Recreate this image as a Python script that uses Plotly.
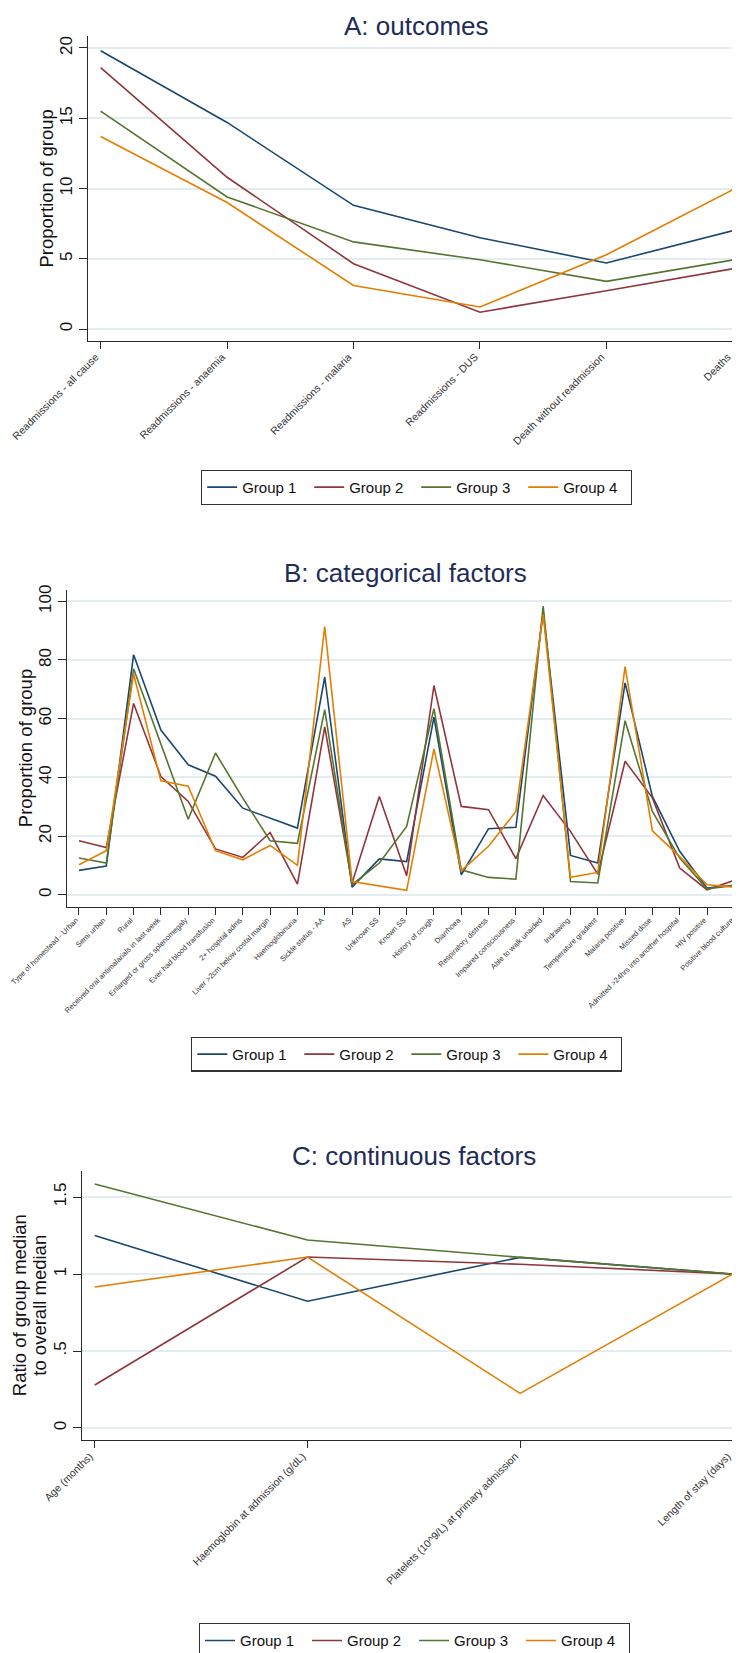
import plotly.graph_objects as go

# ---------------- data ----------------
groups = ["Group 1", "Group 2", "Group 3", "Group 4"]
colors = ["#1a476f", "#90353b", "#55752f", "#e37e00"]

a_cats = ["Readmissions - all cause", "Readmissions - anaemia", "Readmissions - malaria",
          "Readmissions - DUS", "Death without readmission", "Deaths"]
a_g1 = [19.8, 14.7, 8.8, 6.5, 4.7, 7.0]
a_g2 = [18.6, 10.8, 4.65, 1.2, 2.73, 4.29]
a_g3 = [15.5, 9.4, 6.2, 4.93, 3.39, 4.91]
a_g4 = [13.7, 9.0, 3.1, 1.57, 5.29, 9.92]
a_yticks = [0, 5, 10, 15, 20]

b_cats = ["Type of homestead - Urban", "Semi urban", "Rural",
          "Received oral antimalarials in last week", "Enlarged or gross splenomegaly",
          "Ever had blood transfusion", "2+ hospital adms", "Liver >2cm below costal margin",
          "Haemoglobinuria", "Sickle status - AA", "AS", "Unknown SS", "Known SS",
          "History of cough", "Diarrhoea", "Respiratory distress", "Impaired consciousness",
          "Able to walk unaided", "Indrawing", "Temperature gradient", "Malaria positive",
          "Missed dose", "Admitted >24hrs into another hospital", "HIV positive",
          "Positive blood culture"]
b_g1 = [8.3, 9.8, 81.8, 56.1, 44.3, 40.4, 29.5, 26.0, 22.7, 74.2, 2.6, 12.2, 11.3, 60.5,
        6.8, 22.5, 23.0, 96.6, 13.4, 10.8, 72.2, 33.5, 14.8, 2.3, 3.2]
b_g2 = [18.4, 16.1, 65.2, 40.3, 31.8, 15.6, 12.7, 21.2, 3.6, 57.2, 4.0, 33.5, 6.5, 71.3,
        30.1, 29.0, 12.3, 33.8, 21.6, 7.0, 45.5, 33.0, 9.1, 1.7, 4.9]
b_g3 = [12.5, 10.8, 77.0, 51.0, 25.7, 48.3, 32.9, 18.4, 17.5, 63.1, 3.4, 10.8, 23.3, 63.4,
        8.5, 5.9, 5.3, 98.4, 4.5, 4.0, 59.3, 28.4, 12.5, 2.0, 3.2]
b_g4 = [10.2, 15.0, 75.2, 38.8, 37.0, 15.0, 11.9, 16.8, 10.0, 91.4, 4.5, 3.0, 1.5, 49.7,
        8.2, 16.5, 28.4, 95.5, 5.9, 7.6, 77.7, 21.8, 13.0, 3.4, 2.6]
b_yticks = [0, 20, 40, 60, 80, 100]

c_cats = ["Age (months)", "Haemoglobin at admission (g/dL)",
          "Platelets (10^9/L) at primary admission", "Length of stay (days)"]
c_g1 = [1.25, 0.823, 1.108, 1.0]
c_g2 = [0.279, 1.11, 1.063, 1.0]
c_g3 = [1.584, 1.221, 1.108, 1.0]
c_g4 = [0.916, 1.11, 0.225, 1.0]
c_yticks = [0, 0.5, 1, 1.5]
c_yticktext = ["0", ".5", "1", "1.5"]

titles = ["A: outcomes", "B: categorical factors", "C: continuous factors"]
ytitle_lines = [["Proportion of group"], ["Proportion of group"],
                ["Ratio of group median", "to overall median"]]

# ---------------- layout helpers ----------------
W, H = 740, 1653
FONT = "Liberation Sans, Arial, sans-serif"
TITLE_COLOR = "#1e2d58"
GRID = "#e3ecef"
AXIS = "#2a2a2a"


def fx(x):
    return x / W


def fy(y):
    return 1 - y / H


fig = go.Figure()

panels = [
    dict(cats=a_cats, series=[a_g1, a_g2, a_g3, a_g4], xa="x", ya="y", leg="legend"),
    dict(cats=b_cats, series=[b_g1, b_g2, b_g3, b_g4], xa="x2", ya="y2", leg="legend2"),
    dict(cats=c_cats, series=[c_g1, c_g2, c_g3, c_g4], xa="x3", ya="y3", leg="legend3"),
]

for p in panels:
    for name, col, vals in zip(groups, colors, p["series"]):
        fig.add_trace(go.Scatter(
            x=p["cats"], y=vals, mode="lines", name=name,
            line=dict(color=col, width=1.6),
            xaxis=p["xa"], yaxis=p["ya"], legend=p["leg"],
            hoverinfo="x+y+name",
        ))

# pixel geometry of each plot area: (left, right, top, bottom)
geo = [(80, 737.5, 28.3, 332.7), (58.7, 737.5, 581.7, 898.7), (74, 737.5, 1163.3, 1432)]
xranges = [[-0.1, 5.1], [-0.45, 24.41], [-0.06, 3.06]]
yranges = [[-0.83, 20.83], [-4.08, 103.95], [-0.078, 1.667]]
xfont = [10.5, 7.5, 10.5]
xshift = [-5, -3, -5]
ytv = [a_yticks, b_yticks, c_yticks]
ytt = [[str(v) for v in a_yticks], [str(v) for v in b_yticks], c_yticktext]
cats_all = [a_cats, b_cats, c_cats]

layout = dict(
    template="none",
    width=W, height=H, margin=dict(l=0, r=0, t=0, b=0, pad=0),
    paper_bgcolor="white", plot_bgcolor="white",
    font=dict(family=FONT, color="#111111"),
    showlegend=True,
)

for i, (l, r, t, b) in enumerate(geo):
    sx = "" if i == 0 else str(i + 1)
    layout["xaxis" + sx] = dict(
        domain=[fx(l), fx(r)], anchor="y" + sx, range=xranges[i], automargin=False,
        type="category", tickmode="array", tickvals=cats_all[i], ticktext=cats_all[i],
        tickangle=-45, tickfont=dict(size=xfont[i], color="#333333"),
        ticklabelshift=xshift[i], ticklabelstandoff=-2,
        ticks="outside", ticklen=7, tickwidth=1.2, tickcolor=AXIS,
        showline=True, linecolor=AXIS, linewidth=1.3, showgrid=False, zeroline=False,
        fixedrange=True,
    )
    layout["yaxis" + sx] = dict(
        domain=[fy(b), fy(t)], anchor="x" + sx, range=yranges[i], automargin=False,
        tickmode="array", tickvals=ytv[i], ticktext=ytt[i], tickangle=-90,
        tickfont=dict(size=17, color="#111111"),
        ticks="outside", ticklen=8, tickwidth=1.2, tickcolor=AXIS,
        showline=True, linecolor=AXIS, linewidth=1.3,
        showgrid=True, gridcolor=GRID, gridwidth=1.5, zeroline=False,
        fixedrange=True,
    )

leg_pos = [(408.5, 461.7), (398.6, 1028.7), (406.3, 1615)]
for i, (cx, top) in enumerate(leg_pos):
    key = "legend" if i == 0 else "legend" + str(i + 1)
    layout[key] = dict(
        orientation="h", x=fx(cx), xanchor="center", y=fy(top), yanchor="top",
        bordercolor="#333333", borderwidth=1.2, bgcolor="white",
        font=dict(size=15, color="#111111", family=FONT),
        itemwidth=30, entrywidth=62, entrywidthmode="pixels",
    )

annotations = []
# panel titles: (centre x, top y) in pixels
title_pos = [(408.7, 0.5), (398, 548), (405.7, 1131)]
for (cx, top), txt in zip(title_pos, titles):
    annotations.append(dict(
        text=txt, x=fx(cx), y=fy(top), xref="paper", yref="paper",
        xanchor="center", yanchor="top", showarrow=False,
        font=dict(size=26, color=TITLE_COLOR, family=FONT),
    ))
# y-axis titles: one annotation per line, (x centres of lines, y centre)
ytitle_pos = [([38], 180.5), ([17], 740.2), ([11.5, 32], 1297.7)]
for (xs, cy), lines in zip(ytitle_pos, ytitle_lines):
    for cx, txt in zip(xs, lines):
        annotations.append(dict(
            text=txt, x=fx(cx), y=fy(cy), xref="paper", yref="paper",
            xanchor="center", yanchor="middle", showarrow=False, textangle=-90,
            font=dict(size=18.5, color="#111111", family=FONT),
        ))
layout["annotations"] = annotations

fig.update_layout(**layout)
fig.write_html("out.html")
